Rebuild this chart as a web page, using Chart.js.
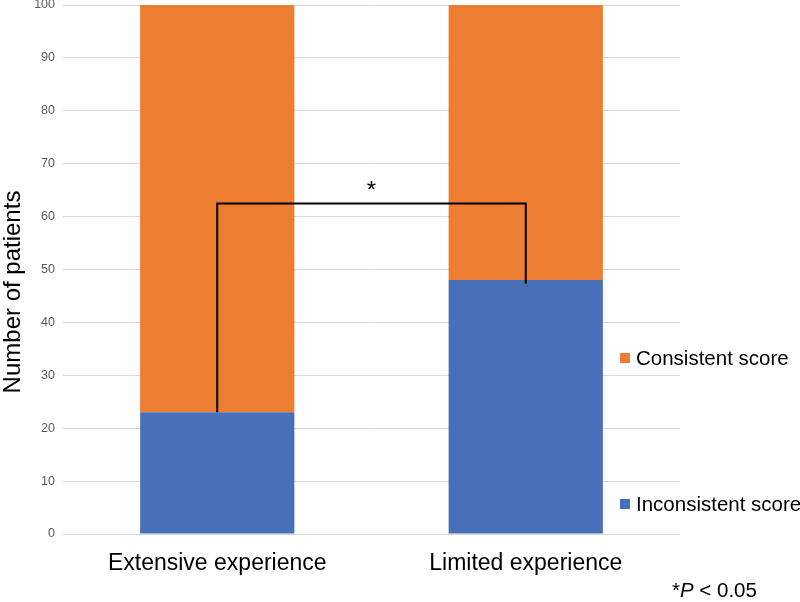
<!DOCTYPE html>
<html>
<head>
<meta charset="utf-8">
<script src="https://cdn.jsdelivr.net/npm/chart.js@4/dist/chart.umd.min.js"></script>
<style>
  html, body { margin: 0; padding: 0; background: #fff; }
  #wrap { width: 800px; height: 602px; position: relative; }
</style>
</head>
<body>
<div id="wrap"><canvas id="chart"></canvas></div>
<script>
"use strict";

// ── Data ─────────────────────────────────────────────────────────────────────

const categories = ["Extensive experience", "Limited experience"];
const inconsistent = [23, 48];
const consistent = [77, 52];
const yTicks = [0, 10, 20, 30, 40, 50, 60, 70, 80, 90, 100];

// significance bracket: top level, and where each leg stops
const bracketTop = 62.5;
const bracketLegs = [23, 47.3];
const bracketMark = "*";

const BLUE = "#4870B8";
const ORANGE = "#ED7D31";
const FONT = "'Liberation Sans', Arial, sans-serif";

// ── Plugins ──────────────────────────────────────────────────────────────────

const extras = {
  id: "extras",
  afterDatasetsDraw(chart) {
    const { ctx, scales: { x, y } } = chart;
    ctx.save();

    // bracket
    const x0 = x.getPixelForValue(0);
    const x1 = x.getPixelForValue(1);
    const yt = y.getPixelForValue(bracketTop);
    ctx.strokeStyle = "#000";
    ctx.lineWidth = 2;
    ctx.beginPath();
    ctx.moveTo(x0, y.getPixelForValue(bracketLegs[0]));
    ctx.lineTo(x0, yt);
    ctx.lineTo(x1, yt);
    ctx.lineTo(x1, y.getPixelForValue(bracketLegs[1]));
    ctx.stroke();

    ctx.fillStyle = "#000";
    ctx.font = `24px ${FONT}`;
    ctx.textAlign = "center";
    ctx.textBaseline = "middle";
    ctx.fillText(bracketMark, (x0 + x1) / 2, yt - 12);

    // y axis title
    ctx.save();
    ctx.translate(13, 292);
    ctx.rotate(-Math.PI / 2);
    ctx.font = `24px ${FONT}`;
    ctx.fillText("Number of patients", 0, 0);
    ctx.restore();

    // legend (right side)
    ctx.textAlign = "left";
    ctx.font = `20.5px ${FONT}`;
    const items = [
      { ds: chart.data.datasets[1], yPos: 358 },
      { ds: chart.data.datasets[0], yPos: 504 },
    ];
    items.forEach(({ ds, yPos }) => {
      ctx.fillStyle = ds.backgroundColor;
      ctx.fillRect(620, yPos - 5, 10, 10);
      ctx.fillStyle = "#000";
      ctx.fillText(ds.label, 636, yPos + 1);
    });

    // footnote
    ctx.font = `20.5px ${FONT}`;
    ctx.textAlign = "left";
    ctx.fillText("*", 672, 591);
    const starW = ctx.measureText("*").width;
    ctx.font = `italic 20.5px ${FONT}`;
    ctx.fillText("P", 672 + starW, 591);
    const pW = ctx.measureText("P").width;
    ctx.font = `20.5px ${FONT}`;
    ctx.fillText(" < 0.05", 672 + starW + pW, 591);

    ctx.restore();
  },
};

// ── Chart ────────────────────────────────────────────────────────────────────

new Chart(document.getElementById("chart"), {
  type: "bar",
  data: {
    labels: categories,
    datasets: [
      {
        label: "Inconsistent score",
        data: inconsistent,
        backgroundColor: BLUE,
        barPercentage: 1,
        categoryPercentage: 0.5,
      },
      {
        label: "Consistent score",
        data: consistent,
        backgroundColor: ORANGE,
        barPercentage: 1,
        categoryPercentage: 0.5,
      },
    ],
  },
  options: {
    responsive: true,
    maintainAspectRatio: false,
    animation: false,
    layout: { padding: { top: 5, right: 120, bottom: 0, left: 0 } },
    plugins: {
      legend: { display: false },
      tooltip: { enabled: false },
    },
    scales: {
      x: {
        stacked: true,
        grid: { display: false, drawTicks: false },
        border: { display: false },
        ticks: {
          color: "#000",
          font: { family: FONT, size: 23 },
          padding: 16,
        },
        afterFit: (s) => { s.height = 68; s.paddingLeft = 0; s.paddingRight = 0; },
      },
      y: {
        stacked: true,
        min: 0,
        max: 100,
        afterBuildTicks: (s) => { s.ticks = yTicks.map((v) => ({ value: v })); },
        grid: { color: "#d9d9d9", lineWidth: 1, drawTicks: false },
        border: { display: false },
        ticks: {
          color: "#595959",
          font: { family: FONT, size: 12.5 },
          padding: 8,
        },
        afterFit: (s) => { s.width = 63; s.paddingTop = 0; s.paddingBottom = 0; },
      },
    },
  },
  plugins: [extras],
});
</script>
</body>
</html>
